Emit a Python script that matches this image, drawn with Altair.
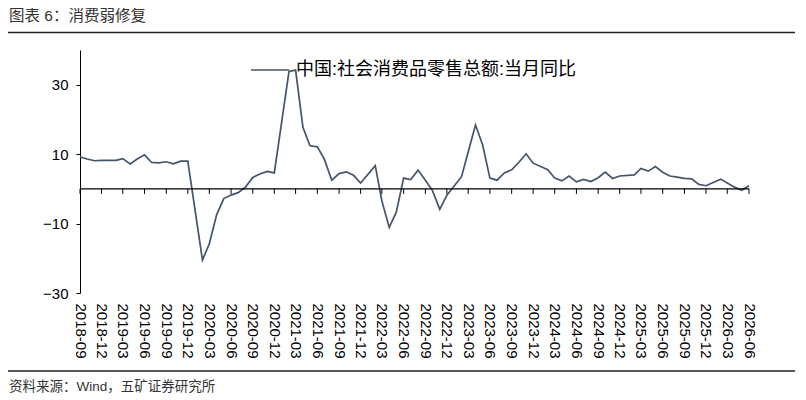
import altair as alt
import pandas as pd

# 月度数据（1月缺失，1-2月合并记在2月）
months = [
    '2018-09', '2018-10', '2018-11', '2018-12',
    '2019-02', '2019-03', '2019-04', '2019-05', '2019-06', '2019-07', '2019-08', '2019-09', '2019-10', '2019-11', '2019-12',
    '2020-02', '2020-03', '2020-04', '2020-05', '2020-06', '2020-07', '2020-08', '2020-09', '2020-10', '2020-11', '2020-12',
    '2021-02', '2021-03', '2021-04', '2021-05', '2021-06', '2021-07', '2021-08', '2021-09', '2021-10', '2021-11', '2021-12',
    '2022-02', '2022-03', '2022-04', '2022-05', '2022-06', '2022-07', '2022-08', '2022-09', '2022-10', '2022-11', '2022-12',
    '2023-02', '2023-03', '2023-04', '2023-05', '2023-06', '2023-07', '2023-08', '2023-09', '2023-10', '2023-11', '2023-12',
    '2024-02', '2024-03', '2024-04', '2024-05', '2024-06', '2024-07', '2024-08', '2024-09', '2024-10', '2024-11', '2024-12',
    '2025-02', '2025-03', '2025-04', '2025-05', '2025-06', '2025-07', '2025-08', '2025-09', '2025-10', '2025-11', '2025-12',
    '2026-02', '2026-03', '2026-04', '2026-05', '2026-06',
]
values = [
    9.2, 8.6, 8.1, 8.2,
    8.2, 8.7, 7.2, 8.6, 9.8, 7.6, 7.5, 7.8, 7.2, 8.0, 8.0,
    -20.5, -15.8, -7.5, -2.8, -1.8, -1.1, 0.5, 3.3, 4.3, 5.0, 4.6,
    33.8, 34.2, 17.7, 12.4, 12.1, 8.5, 2.5, 4.4, 4.9, 3.9, 1.7,
    6.7, -3.5, -11.1, -6.7, 3.1, 2.7, 5.4, 2.5, -0.5, -5.9, -1.8,
    3.5, 10.6, 18.4, 12.7, 3.1, 2.5, 4.6, 5.5, 7.6, 10.1, 7.4,
    5.5, 3.1, 2.3, 3.7, 2.0, 2.7, 2.1, 3.2, 4.8, 3.0, 3.7,
    4.0, 5.9, 5.1, 6.4, 4.8, 3.7, 3.4, 3.0, 2.9, 1.3, 0.9,
    2.8, 1.7, 0.5, -0.4, 0.9,
]
series_name = '中国:社会消费品零售总额:当月同比'
title_text = '图表 6：消费弱修复'
source_text = '资料来源：Wind，五矿证券研究所'
y_ticks = [-30, -20, -10, 0, 10, 20, 30, 40]
tick_months = pd.date_range('2018-09-01', '2026-06-01', freq='3MS')

df = pd.DataFrame({'month': [m + '-01' for m in months], 'value': values, 'series': series_name})
ticks_df = pd.DataFrame({'month': tick_months.strftime('%Y-%m-%d')})

LINE = '#44546A'
FONT = 'Liberation Sans, Noto Sans CJK SC, sans-serif'
W, H = 669, 243

tick_vals = [alt.DateTime(year=d.year, month=d.month, date=1, utc=True) for d in tick_months]
x_scale = alt.Scale(type='utc', domain=[tick_vals[0], tick_vals[-1]])
y_scale = alt.Scale(domain=[-30, 40], nice=False)

x_enc = alt.X('month:T', scale=x_scale,
              axis=alt.Axis(orient='bottom', values=tick_vals, format='%Y-%m', labelAngle=90,
                            domain=False, ticks=False, tickSize=0, labelPadding=10, labelFontSize=15,
                            labelOverlap=False, labelFlush=False, grid=False, title=None))
y_axis = alt.Axis(values=y_ticks, tickSize=4, labelPadding=8, labelFontSize=15, title=None,
                  grid=False, labelOverlap=False)

line = alt.Chart(df).mark_line(strokeWidth=1.7).encode(
    x=x_enc,
    y=alt.Y('value:Q', scale=y_scale, axis=y_axis),
    color=alt.Color('series:N', scale=alt.Scale(range=[LINE]),
                    legend=alt.Legend(title=None, orient='none', legendX=170, legendY=0,
                                      symbolType='stroke', symbolSize=1444, symbolStrokeWidth=1.5,
                                      labelFontSize=18, labelFont=FONT, labelColor='black',
                                      labelOffset=6, labelLimit=0, padding=0)),
)

# 零轴（Excel 式：横轴在 0 处交叉）及其刻度
zero_line = alt.Chart(pd.DataFrame({'z': [0]})).mark_rule(color='black', strokeWidth=1.3).encode(
    y=alt.datum(0))

zero_ticks = alt.Chart(ticks_df).mark_rule(color='black', strokeWidth=1).encode(
    x=x_enc, y=alt.datum(0), y2=alt.datum(-1.45))

title = alt.Chart(pd.DataFrame({'t': [title_text]})).mark_text(
    align='left', baseline='alphabetic', fontSize=15.5, font=FONT, color='#333'
).encode(x=alt.value(-71), y=alt.value(-29), text='t:N')

top_rule = alt.Chart(pd.DataFrame({'r': [0]})).mark_rule(color='#222', strokeWidth=1.3).encode(
    x=alt.value(-72), x2=alt.value(715), y=alt.value(-17.5))

bottom_rule = alt.Chart(pd.DataFrame({'r': [1]})).mark_rule(color='#222', strokeWidth=1.3).encode(
    x=alt.value(-72), x2=alt.value(715), y=alt.value(321))

source = alt.Chart(pd.DataFrame({'t': [source_text]})).mark_text(
    align='left', baseline='middle', fontSize=13.5, font=FONT, color='#333'
).encode(x=alt.value(-71), y=alt.value(337), text='t:N')

chart = alt.layer(line, zero_line, zero_ticks, title, top_rule, bottom_rule, source).properties(
    width=W, height=H,
    padding={'left': 72, 'top': 42, 'right': 46, 'bottom': 102},
    autosize=alt.AutoSizeParams(type='none'),
).configure_view(stroke=None).configure_axis(
    domainColor='black', tickColor='black', labelColor='black', labelFont=FONT
)

chart.save("out.html", embed_options={"renderer": "svg", "actions": False})
